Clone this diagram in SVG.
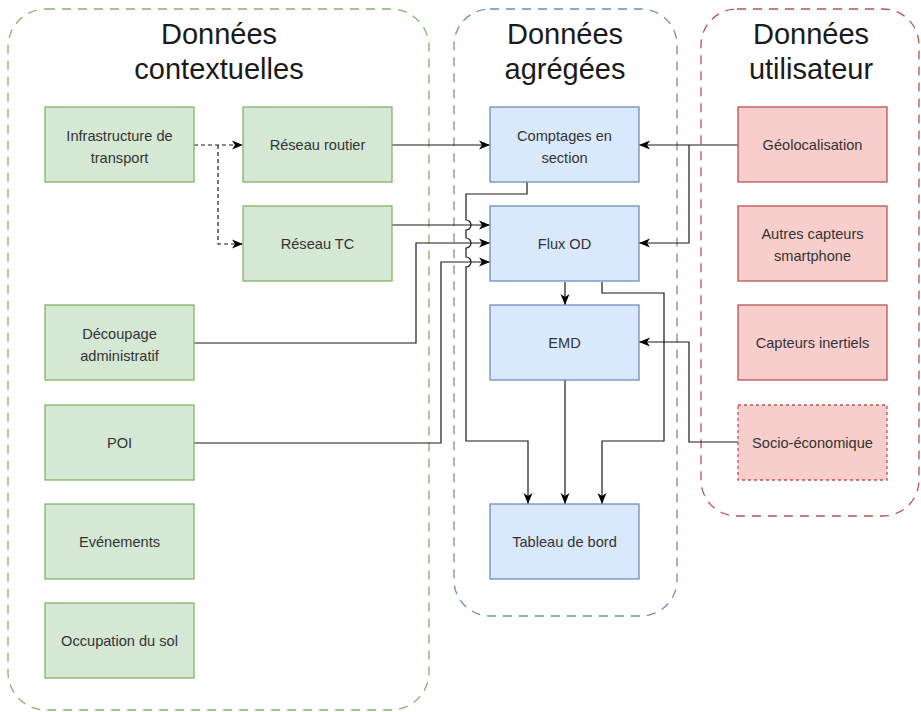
<svg xmlns="http://www.w3.org/2000/svg" width="921" height="712" viewBox="0 0 921 712">
  <style>
    .grp { fill: none; stroke-width: 1.3; stroke-dasharray: 9 7; }
    .g-ctx { stroke: #82b366; }
    .g-agg { stroke: #6c8ebf; }
    .g-usr { stroke: #b85450; }
    .title { font-family: "Liberation Sans", Arial, sans-serif; font-size: 29px; fill: #1a1a1a; text-anchor: middle; }
    .box { stroke-width: 1.3; }
    .green { fill: #d5e8d4; stroke: #82b366; }
    .blue { fill: #dae8fc; stroke: #6c8ebf; }
    .red { fill: #f8cecc; stroke: #b85450; }
    .dashed { stroke-dasharray: 3 3; }
    .lbl { font-family: "Liberation Sans", Arial, sans-serif; font-size: 14.6px; fill: #333333; text-anchor: middle; }
    .edge { fill: none; stroke: #1a1a1a; stroke-width: 1.2; }
    .dash-edge { stroke-dasharray: 4 3; }
    .arrow { marker-end: url(#tip); }
  </style>
  <defs>
    <marker id="tip" markerUnits="userSpaceOnUse" markerWidth="13" markerHeight="11" refX="12" refY="5.5" orient="auto">
      <path d="M1,1 L12,5.5 L1,10 L4,5.5 Z" fill="#000000" stroke="none"/>
    </marker>
  </defs>

  <!-- group containers -->
  <g id="grp-contextuelles">
    <rect class="grp g-ctx" x="8" y="9" width="421" height="701" rx="38" ry="38"/>
    <text class="title" x="219" y="44">Données</text>
    <text class="title" x="219" y="79">contextuelles</text>
  </g>
  <g id="grp-agregees">
    <rect class="grp g-agg" x="454" y="9" width="223" height="607" rx="36" ry="36"/>
    <text class="title" x="565" y="44">Données</text>
    <text class="title" x="565" y="79">agrégées</text>
  </g>
  <g id="grp-utilisateur">
    <rect class="grp g-usr" x="701" y="9" width="218" height="507" rx="36" ry="36"/>
    <text class="title" x="811" y="44">Données</text>
    <text class="title" x="811" y="79">utilisateur</text>
  </g>

  <!-- connectors -->
  <g id="connectors">
    <path class="edge arrow dash-edge" d="M194,145 H243"/>
    <path class="edge arrow dash-edge" d="M218,145 V244 H243"/>
    <path class="edge arrow" d="M392,145 H490"/>
    <path class="edge arrow" d="M392,225 H490"/>
    <path class="edge arrow" d="M194,343 H416 V243 H490"/>
    <path class="edge arrow" d="M194,443 H441 V262 H490"/>
    <path class="edge arrow" d="M527,182 V194 H466 V220 A5,5 0 0 1 466,230 V238 A5,5 0 0 1 466,248 V257 A5,5 0 0 1 466,267 V441 H528 V504"/>
    <path class="edge arrow" d="M565,282 V305"/>
    <path class="edge arrow" d="M602,282 V293 H664 V441 H602 V504"/>
    <path class="edge arrow" d="M565,380 V504"/>
    <path class="edge arrow" d="M738,145 H639"/>
    <path class="edge arrow" d="M689,145 V243 H639"/>
    <path class="edge arrow" d="M738,442 H689 V342 H639"/>
  </g>

  <!-- contextual data nodes -->
  <g id="infrastructure">
    <rect class="box green" x="45" y="107" width="149" height="75"/>
    <text class="lbl" x="119.5" y="141">Infrastructure de</text>
    <text class="lbl" x="119.5" y="163">transport</text>
  </g>
  <g id="reseau-routier">
    <rect class="box green" x="243" y="107" width="149" height="75"/>
    <text class="lbl" x="317.5" y="150">Réseau routier</text>
  </g>
  <g id="reseau-tc">
    <rect class="box green" x="243" y="206" width="149" height="75"/>
    <text class="lbl" x="317.5" y="249">Réseau TC</text>
  </g>
  <g id="decoupage">
    <rect class="box green" x="45" y="305" width="149" height="75"/>
    <text class="lbl" x="119.5" y="339">Découpage</text>
    <text class="lbl" x="119.5" y="361">administratif</text>
  </g>
  <g id="poi">
    <rect class="box green" x="45" y="405" width="149" height="75"/>
    <text class="lbl" x="119.5" y="448">POI</text>
  </g>
  <g id="evenements">
    <rect class="box green" x="45" y="504" width="149" height="75"/>
    <text class="lbl" x="119.5" y="547">Evénements</text>
  </g>
  <g id="occupation">
    <rect class="box green" x="45" y="603" width="149" height="75"/>
    <text class="lbl" x="119.5" y="646">Occupation du sol</text>
  </g>

  <!-- aggregated data nodes -->
  <g id="comptages">
    <rect class="box blue" x="490" y="107" width="149" height="75"/>
    <text class="lbl" x="564.5" y="141">Comptages en</text>
    <text class="lbl" x="564.5" y="163">section</text>
  </g>
  <g id="flux-od">
    <rect class="box blue" x="490" y="206" width="149" height="75"/>
    <text class="lbl" x="564.5" y="249">Flux OD</text>
  </g>
  <g id="emd">
    <rect class="box blue" x="490" y="305" width="149" height="75"/>
    <text class="lbl" x="564.5" y="348">EMD</text>
  </g>
  <g id="tableau-de-bord">
    <rect class="box blue" x="490" y="504" width="149" height="75"/>
    <text class="lbl" x="564.5" y="547">Tableau de bord</text>
  </g>

  <!-- user data nodes -->
  <g id="geolocalisation">
    <rect class="box red" x="738" y="107" width="149" height="75"/>
    <text class="lbl" x="812.5" y="150">Géolocalisation</text>
  </g>
  <g id="autres-capteurs">
    <rect class="box red" x="738" y="206" width="149" height="75"/>
    <text class="lbl" x="812.5" y="239">Autres capteurs</text>
    <text class="lbl" x="812.5" y="261">smartphone</text>
  </g>
  <g id="capteurs-inertiels">
    <rect class="box red" x="738" y="305" width="149" height="75"/>
    <text class="lbl" x="812.5" y="348">Capteurs inertiels</text>
  </g>
  <g id="socio-economique">
    <rect class="box red dashed" x="738" y="405" width="149" height="75"/>
    <text class="lbl" x="812.5" y="448">Socio-économique</text>
  </g>
</svg>
